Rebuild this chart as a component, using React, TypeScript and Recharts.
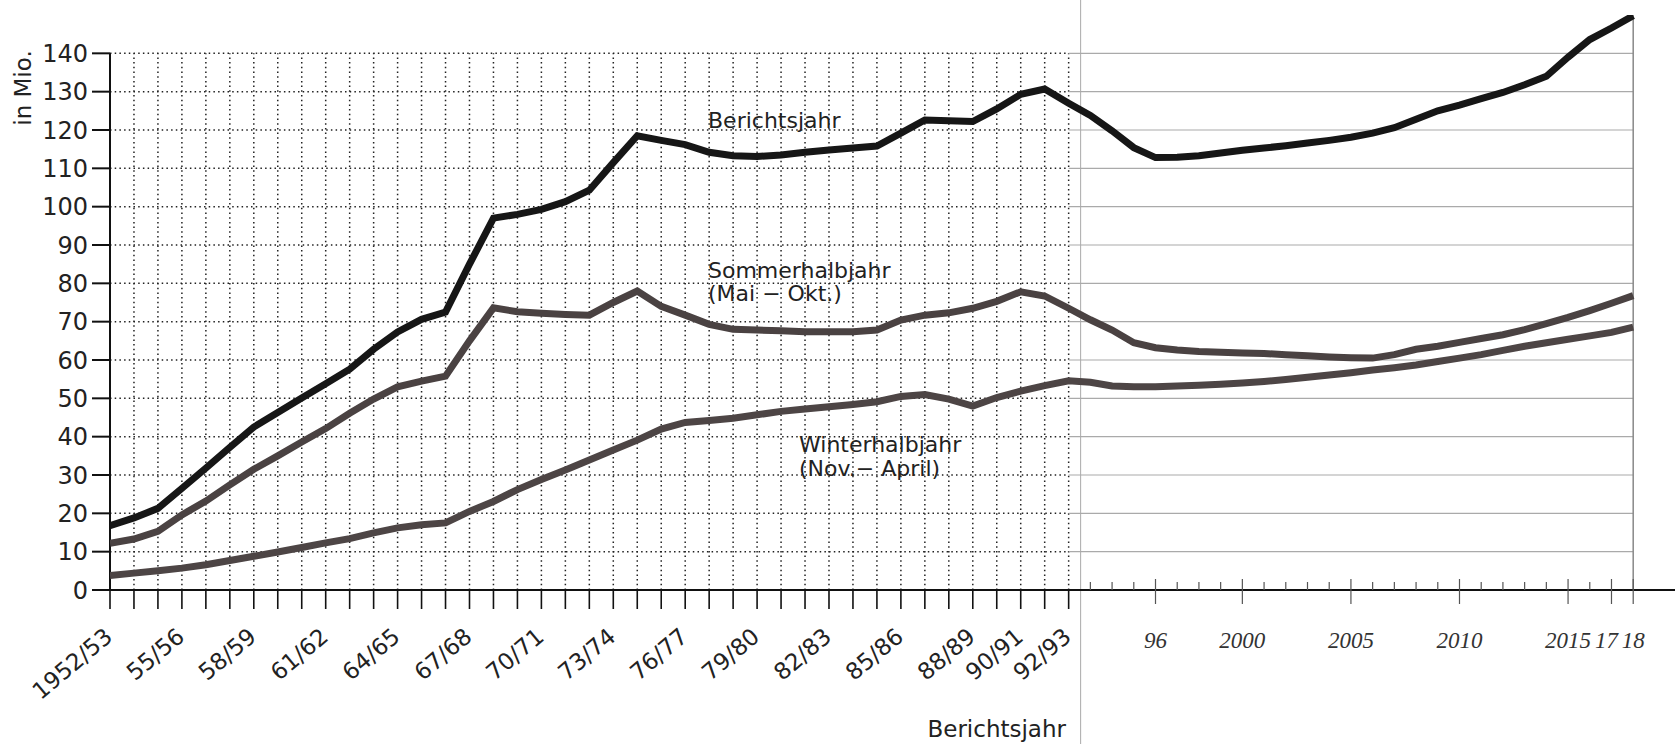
import { LineChart, Line, XAxis, YAxis, ReferenceLine } from "recharts";

// season start years: 1952/53 ... 92/93, then calendar years 1993 ... 2018
const LEFT_FIRST = 1952;
const LEFT_LAST = 1992;
const RIGHT_LAST = 2018;
// the hand-drawn part after 92/93 uses a slightly narrower year spacing
const RIGHT_STEP = 0.906;

const leftTickLabels = ["1952/53", "55/56", "58/59", "61/62", "64/65", "67/68", "70/71", "73/74", "76/77", "79/80", "82/83", "85/86", "88/89", "90/91", "92/93"];
const rightTickLabels = ["96", "2000", "2005", "2010", "2015", "17", "18"];
const yTicks = [0, 10, 20, 30, 40, 50, 60, 70, 80, 90, 100, 110, 120, 130, 140];

// 1952/53 .. 92/93 (in Mio.)
const gesamtLeft = [16.8, 18.8, 21.3, 26.5, 31.8, 37.2, 42.5, 46.3, 50.1, 53.8, 57.6, 62.8, 67.3, 70.6, 72.5, 85, 97, 98, 99.3, 101.3, 104.3, 111.5, 118.5, 117.3, 116.2, 114.2, 113.3, 113.1, 113.5, 114.2, 114.8, 115.3, 115.8, 119.2, 122.6, 122.4, 122.2, 125.5, 129.3, 130.7, 127];
const sommerLeft = [12.2, 13.3, 15.3, 19.6, 23.2, 27.4, 31.5, 35, 38.6, 42.1, 46.1, 49.8, 53, 54.5, 55.8, 65, 73.6, 72.6, 72.2, 71.9, 71.7, 75, 78, 74, 71.7, 69.3, 68, 67.8, 67.6, 67.4, 67.4, 67.4, 67.8, 70.4, 71.7, 72.3, 73.5, 75.3, 77.8, 76.7, 73.5];
const winterLeft = [3.8, 4.4, 5, 5.7, 6.6, 7.7, 8.8, 9.9, 11.1, 12.3, 13.4, 14.9, 16.2, 17, 17.5, 20.5, 23.1, 26.2, 28.8, 31.3, 33.9, 36.5, 39.1, 42, 43.7, 44.2, 44.8, 45.7, 46.6, 47.2, 47.8, 48.4, 49.1, 50.5, 51, 49.8, 48, 50.2, 51.9, 53.3, 54.6];

// 1993 .. 2018
const gesamtRight = [123.8, 119.8, 115.4, 112.8, 112.9, 113.3, 114, 114.7, 115.3, 115.9, 116.6, 117.3, 118.1, 119.2, 120.6, 122.8, 125, 126.5, 128.2, 129.8, 131.8, 134, 139, 143.6, 146.6, 149.8];
const sommerRight = [70.5, 67.8, 64.5, 63.2, 62.6, 62.2, 62, 61.8, 61.7, 61.4, 61.1, 60.8, 60.6, 60.5, 61.4, 62.8, 63.6, 64.6, 65.6, 66.6, 67.9, 69.5, 71.1, 72.9, 74.8, 76.8];
const winterRight = [54.2, 53.2, 53, 53, 53.2, 53.4, 53.7, 54, 54.4, 54.9, 55.5, 56.1, 56.7, 57.4, 58, 58.7, 59.6, 60.5, 61.4, 62.5, 63.6, 64.5, 65.4, 66.3, 67.2, 68.6];

const leftYears = Array.from({ length: LEFT_LAST - LEFT_FIRST + 1 }, (_, i) => LEFT_FIRST + i);
const rightYears = Array.from({ length: RIGHT_LAST - LEFT_LAST }, (_, i) => LEFT_LAST + 1 + i);
const allYears = [...leftYears, ...rightYears];

const toPos = (year: number) =>
  year <= LEFT_LAST ? year - LEFT_FIRST : LEFT_LAST - LEFT_FIRST + (year - LEFT_LAST) * RIGHT_STEP;

const labelYear = (label: string) => {
  const head = label.split("/")[0];
  const n = Number(head);
  if (head.length === 4) return n;
  if (label.includes("/")) return 1900 + n;
  return n < 50 ? 2000 + n : 1900 + n;
};

const leftLabelByYear = new Map(leftTickLabels.map((l) => [labelYear(l), l]));
const rightLabelByYear = new Map(rightTickLabels.map((l) => [labelYear(l), l]));

const gesamt = [...gesamtLeft, ...gesamtRight];
const sommer = [...sommerLeft, ...sommerRight];
const winter = [...winterLeft, ...winterRight];

const data = allYears.map((year, k) => ({
  pos: toPos(year),
  gesamt: gesamt[k],
  sommer: sommer[k],
  winter: winter[k],
}));

const tickPositions = allYears.map(toPos);
const SPLIT = toPos(LEFT_LAST);
const END = toPos(RIGHT_LAST);
const X_MAX = 65.3;

const FONT = "'DejaVu Sans', 'Liberation Sans', sans-serif";
const HAND = "'Liberation Serif', 'DejaVu Serif', serif";

const yearAt = (pos: number) =>
  allYears.reduce((best, y) => (Math.abs(toPos(y) - pos) < Math.abs(toPos(best) - pos) ? y : best), allYears[0]);

function XTick(props: any) {
  const { x, y, payload } = props;
  const year = yearAt(payload.value);
  if (year <= LEFT_LAST) {
    const label = leftLabelByYear.get(year);
    const ax = x + 4;
    const ay = y + 49;
    return (
      <g>
        <line x1={x} x2={x} y1={y} y2={y + 19} stroke="#111" strokeWidth={1.6} />
        {label ? (
          <text x={ax} y={ay} transform={`rotate(-40 ${ax} ${ay})`} textAnchor="end" fontFamily={FONT} fontSize={23} fill="#222">
            {label}
          </text>
        ) : null}
      </g>
    );
  }
  const label = rightLabelByYear.get(year);
  const major = label != null;
  return (
    <g>
      <line x1={x} x2={x} y1={major ? y - 11 : y - 8} y2={major ? y + 14 : y} stroke="#555" strokeWidth={1.2} />
      {label ? (
        <text x={label === "17" ? x - 5 : x} y={y + 58} textAnchor="middle" fontFamily={HAND} fontStyle="italic" fontSize={23} fill="#333">
          {label}
        </text>
      ) : null}
    </g>
  );
}

const gridLevels = yTicks.filter((v) => v > 0);
const leftColumns = leftYears.map(toPos).filter((p) => p > 0);

export default function App() {
  return (
    <div style={{ position: "absolute", left: 0, top: 0, width: 1675, height: 744, background: "#fff" }}>
      <LineChart width={1675} height={744} data={data} margin={{ top: 15, right: 0, bottom: 0, left: 0 }}>
        <XAxis
          dataKey="pos"
          type="number"
          domain={[0, X_MAX]}
          ticks={tickPositions}
          interval={0}
          tickLine={false}
          tickSize={0}
          tickMargin={0}
          height={154}
          axisLine={{ stroke: "#111", strokeWidth: 2 }}
          tick={(p: any) => <XTick {...p} />}
          allowDataOverflow
        />
        <YAxis
          type="number"
          domain={[0, 150]}
          ticks={yTicks}
          interval={0}
          width={110}
          axisLine={false}
          tickSize={18}
          tickMargin={4}
          tickLine={{ stroke: "#111", strokeWidth: 2 }}
          tick={{ fontFamily: FONT, fontSize: 24, fill: "#222" }}
          allowDataOverflow
        />

        {leftColumns.map((p) => (
          <ReferenceLine key={`v${p}`} zIndex={50} segment={[{ x: p, y: 0 }, { x: p, y: 140 }]} stroke="#222" strokeWidth={1.5} strokeDasharray="1.5 3.2" />
        ))}
        {gridLevels.map((v) => (
          <ReferenceLine key={`h${v}`} zIndex={50} segment={[{ x: 0, y: v }, { x: SPLIT, y: v }]} stroke="#222" strokeWidth={1.5} strokeDasharray="1.5 3.2" />
        ))}
        {gridLevels.map((v) => (
          <ReferenceLine key={`r${v}`} zIndex={50} segment={[{ x: SPLIT, y: v }, { x: END, y: v }]} stroke="#aaa" strokeWidth={1.2} />
        ))}
        <ReferenceLine zIndex={50} segment={[{ x: 0, y: 0 }, { x: 0, y: 140 }]} stroke="#111" strokeWidth={2} />
        <ReferenceLine zIndex={50} segment={[{ x: END, y: 0 }, { x: END, y: 150 }]} stroke="#888" strokeWidth={1.5} />
        <ReferenceLine
          zIndex={50}
          x={SPLIT + 0.5}
          stroke="#999"
          strokeWidth={1}
          shape={(p: any) => <line x1={p.x1} x2={p.x2} y1={0} y2={744} stroke="#aaa" strokeWidth={1} />}
        />

        <Line zIndex={600} type="linear" dataKey="winter" stroke="#4d4545" strokeWidth={7} dot={false} isAnimationActive={false} />
        <Line zIndex={600} type="linear" dataKey="sommer" stroke="#4a4242" strokeWidth={7} dot={false} isAnimationActive={false} />
        <Line zIndex={600} type="linear" dataKey="gesamt" stroke="#161616" strokeWidth={7} dot={false} isAnimationActive={false} />
      </LineChart>

      <svg width={1675} height={744} style={{ position: "absolute", left: 0, top: 0, pointerEvents: "none" }}>
        <line x1={98} x2={112} y1={590} y2={590} stroke="#111" strokeWidth={2} />
        <g fontFamily={FONT} fontSize={22} fill="#222">
          <text x={23} y={88} fontSize={23} transform="rotate(-90 23 88)" textAnchor="middle" dominantBaseline="central">in Mio.</text>
          <text x={708} y={128}>Berichtsjahr</text>
          <text x={708} y={278}>Sommerhalbjahr</text>
          <text x={708} y={301}>(Mai − Okt.)</text>
          <text x={799} y={452}>Winterhalbjahr</text>
          <text x={799} y={476}>(Nov.− April)</text>
          <text x={1066} y={737} fontSize={23} textAnchor="end">Berichtsjahr</text>
        </g>
      </svg>
    </div>
  );
}
